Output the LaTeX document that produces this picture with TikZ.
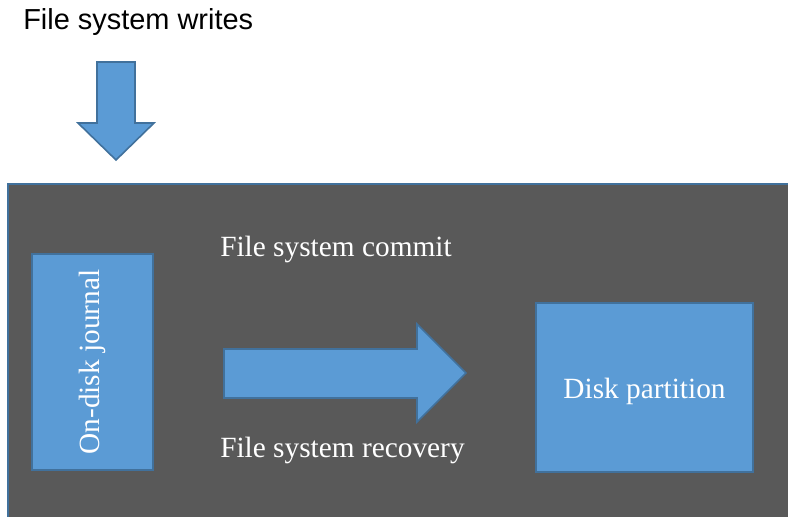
\documentclass[tikz,border=0pt]{standalone}
\usepackage{fontspec}
\setmainfont{Liberation Serif}
\newfontfamily\arialfont{Liberation Sans}
\definecolor{darkbg}{HTML}{595959}
\definecolor{boxblue}{HTML}{5B9BD5}
\definecolor{edgeblue}{HTML}{41719C}
\tikzset{
  bluebox/.style={draw=edgeblue, fill=boxblue, line width=1.5pt},
  blockarrow/.style={draw=edgeblue, fill=boxblue, line width=1.2pt, line join=miter},
  lbl/.style={text=white, font=\fontsize{22}{26}\selectfont, inner sep=0pt},
}
\begin{document}
\begin{tikzpicture}[x=0.75pt, y=-0.75pt]
\useasboundingbox (0,0) rectangle (788,517);
% title
\node[anchor=base west, inner sep=0pt, font=\arialfont\fontsize{21.7}{26}\selectfont] (title) at (23,30) {File system writes};
% down arrow
\draw[blockarrow] (97,62) -- (135,62) -- (135,123) -- (154,123) -- (116,160) -- (78,123) -- (97,123) -- cycle;
% dark container
\draw[fill=darkbg, draw=edgeblue, line width=1.8pt] (8,184) rectangle (800,530);
% journal
\draw[bluebox] (32,254) rectangle (153,470);
\node[lbl, rotate=90] (journal) at (92.5,362) {On-disk journal};
% disk partition
\draw[bluebox] (536,303) rectangle (753,472);
\node[lbl, anchor=base] (disk) at (644.5,398) {Disk partition};
% big right arrow
\draw[blockarrow] (224,349) -- (417,349) -- (417,324) -- (466,373) -- (417,422) -- (417,398) -- (224,398) -- cycle;
% labels
\node[lbl, anchor=base west] (commit) at (220,256) {File system commit};
\node[lbl, anchor=base west] (recovery) at (220,457) {File system recovery};
\end{tikzpicture}
\end{document}
